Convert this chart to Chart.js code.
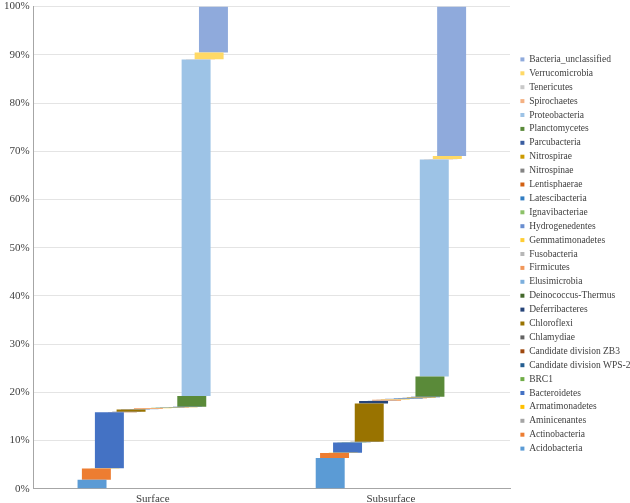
<!DOCTYPE html>
<html>
<head>
<meta charset="utf-8">
<script src="https://cdn.jsdelivr.net/npm/chart.js@4/dist/chart.umd.min.js"></script>
<style>
  html, body { margin: 0; padding: 0; background: #fff; overflow: hidden; }
  #frame { width: 630px; height: 503px; overflow: hidden; }
  #wrap { width: 630px; height: 514px; margin-top: -4px; }
</style>
</head>
<body>
<div id="frame"><div id="wrap"><canvas id="phylumChart"></canvas></div></div>
<script>
'use strict'

/* categories + tick labels */
const sites = ['Surface', 'Subsurface'];
const yTicks = [0, 10, 20, 30, 40, 50, 60, 70, 80, 90, 100];

/* phyla, bottom to top */
const phyla = [
  'Acidobacteria', 'Actinobacteria', 'Aminicenantes', 'Armatimonadetes', 'Bacteroidetes',
  'BRC1', 'Candidate division WPS-2', 'Candidate division ZB3', 'Chlamydiae', 'Chloroflexi',
  'Deferribacteres', 'Deinococcus-Thermus', 'Elusimicrobia', 'Firmicutes', 'Fusobacteria',
  'Gemmatimonadetes', 'Hydrogenedentes', 'Ignavibacteriae', 'Latescibacteria', 'Lentisphaerae',
  'Nitrospinae', 'Nitrospirae', 'Parcubacteria', 'Planctomycetes', 'Proteobacteria',
  'Spirochaetes', 'Tenericutes', 'Verrucomicrobia', 'Bacteria_unclassified'
];

// relative abundance (%) per phylum
const surface = [
  1.9, 2.3, 0.02, 0.03, 11.6,
  0.02, 0.03, 0.02, 0.05, 0.5,
  0.03, 0.02, 0.02, 0.15, 0.01,
  0.05, 0.02, 0.05, 0.05, 0.02,
  0.02, 0.05, 0.08, 2.2, 69.8,
  0.03, 0.02, 1.4, 9.51
];
const subsurface = [
  6.4, 1.0, 0.05, 0.03, 2.1,
  0.05, 0.05, 0.03, 0.04, 7.95,
  0.5, 0.03, 0.05, 0.2, 0.02,
  0.1, 0.05, 0.05, 0.1, 0.03,
  0.05, 0.1, 0.12, 4.2, 45.0,
  0.05, 0.03, 0.62, 31.0
];

const colors = [
  '#5B9BD5', '#ED7D31', '#A5A5A5', '#FFC000', '#4472C4',
  '#70AD47', '#255E91', '#9E480E', '#636363', '#997300',
  '#264478', '#43682B', '#7CAFDD', '#F1975A', '#B7B7B7',
  '#FFCD33', '#698ED0', '#8CC168', '#327DC2', '#D26012',
  '#848484', '#CC9A00', '#3A5DA0', '#5A8A39', '#9DC3E6',
  '#F4B183', '#C9C9C9', '#FFD966', '#8FAADC'
];

/* build floating [start,end] ranges (waterfall) */
let runS = 0, runB = 0;
const datasets = phyla.map(function(name, i){
  const s = [runS, runS + surface[i]];
  const b = [runB, runB + subsurface[i]];
  runS += surface[i];
  runB += subsurface[i];
  return {
    label: name,
    data: [s, b],
    backgroundColor: colors[i],
    borderWidth: 0,
    grouped: true
  };
});

// nudge legend entries a bit right of the plot edge (excel style gap)
const legendShift = {
  id: 'legendShift',
  afterLayout: function(chart){
    chart.legend.left += 6;
    chart.legend.top += 2;
  }
};

const ctx = document.getElementById('phylumChart').getContext('2d');

const chart = new Chart(ctx, {
  type: 'bar',
  data: { labels: sites, datasets: datasets },
  plugins: [legendShift],
  options: {
    responsive: true,
    maintainAspectRatio: false,
    animation: false,
    categoryPercentage: 0.528,
    barPercentage: 6.68,
    layout: { padding: 0 },
    plugins: {
      tooltip: { enabled: false },
      legend: {
        position: 'right',
        reverse: true,
        maxWidth: 120,
        labels: {
          boxWidth: 4,
          boxHeight: 4,
          padding: 4.4,
          color: '#404040',
          font: { family: 'Liberation Serif', size: 9.5 }
        }
      }
    },
    scales: {
      x: {
        grid: { display: false, drawTicks: false },
        border: { color: '#A6A6A6', width: 1 },
        ticks: {
          color: '#404040',
          padding: 4,
          font: { family: 'Liberation Serif', size: 11 }
        }
      },
      y: {
        min: 0,
        max: 100,
        afterBuildTicks: function(axis){
          axis.ticks = yTicks.map(function(v){ return { value: v }; });
        },
        grid: { color: '#E4E4E4', drawTicks: false },
        border: { color: '#A6A6A6', width: 1 },
        ticks: {
          color: '#404040',
          padding: 4,
          font: { family: 'Liberation Serif', size: 11 },
          callback: function(v){ return v + '%'; }
        }
      }
    }
  }
});
</script>
</body>
</html>
